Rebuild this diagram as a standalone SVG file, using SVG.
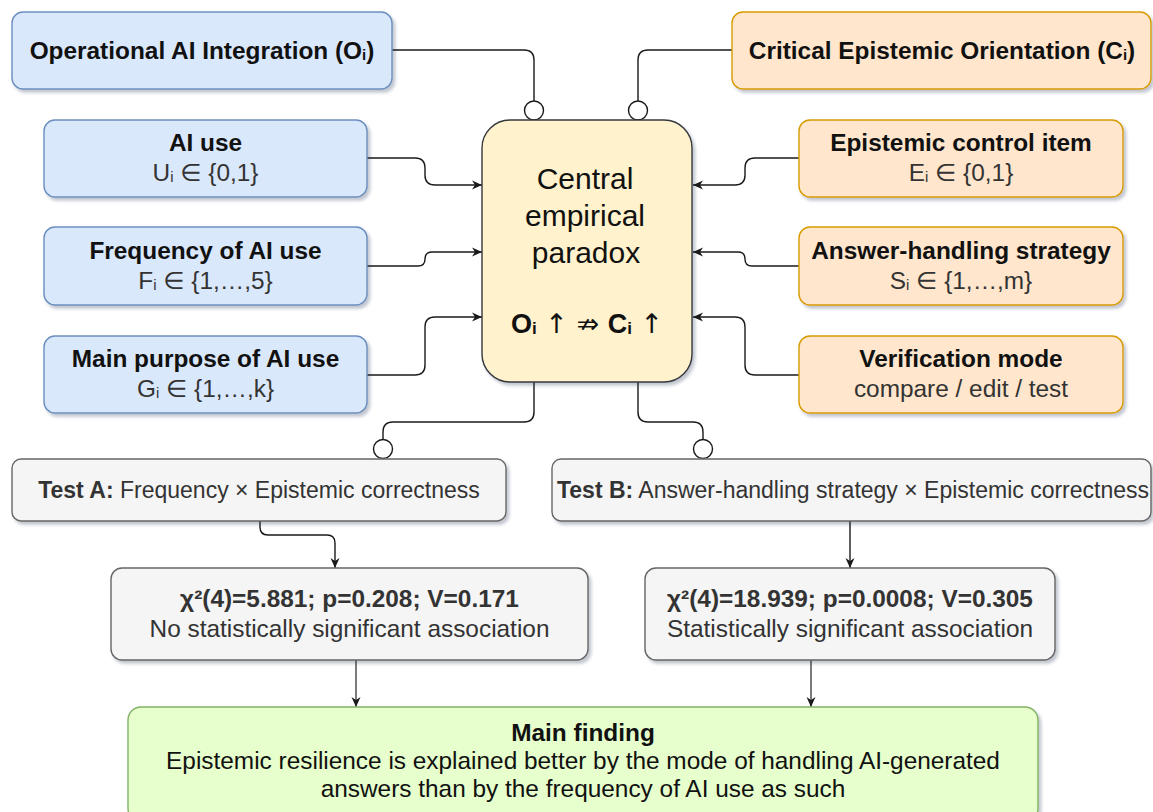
<svg xmlns="http://www.w3.org/2000/svg" width="1153" height="812" viewBox="0 0 1153 812">
<style>
.box{stroke-width:1.4}
.b{fill:#dae8fc;stroke:#6c8ebf}
.o{fill:#ffe6cc;stroke:#d79b00}
.y{fill:#fff2cc;stroke:#36393d}
.g{fill:#f5f5f5;stroke:#666666}
.gr{fill:#e6ffcc;stroke:#82b366}
text{font-family:"Liberation Sans","DejaVu Sans",sans-serif;font-size:24.4px;text-anchor:middle;fill:#111}
.bd{font-weight:bold}
.sub{font-size:15px}
.dk{fill:#333333}
.sym{font-family:"DejaVu Sans",sans-serif;font-weight:normal;fill:#111}
.c{fill:none;stroke:#1a1a1a;stroke-width:1.4}
.cg{fill:none;stroke:#444;stroke-width:1.4}
.dot{fill:#ffffff;stroke:#1a1a1a;stroke-width:1.4}
</style>
<defs>
<filter id="sh" x="-10%" y="-10%" width="125%" height="135%">
<feDropShadow dx="2.5" dy="3" stdDeviation="1.8" flood-color="#203050" flood-opacity="0.28"/>
</filter>
<marker id="ar" markerWidth="11" markerHeight="10" refX="10" refY="5" orient="auto" markerUnits="userSpaceOnUse">
<path d="M0,0.5 L10,5 L0,9.5 L3,5 Z" fill="#1a1a1a"/>
</marker>
</defs>

<g id="connectors">
<path class="c" d="M392,50 H524 Q534,50 534,60 V101"/>
<circle class="dot" cx="534" cy="110.5" r="9.5"/>
<path class="c" d="M732,50 H648 Q638,50 638,60 V101"/>
<circle class="dot" cx="638" cy="110.5" r="9.5"/>
<path class="c" d="M367,158 H415 Q425,158 425,168 V175 Q425,185 435,185 H482" marker-end="url(#ar)"/>
<path class="c" d="M367,266 H418 Q425,266 425,259 Q425,252 432,252 H482" marker-end="url(#ar)"/>
<path class="c" d="M367,375 H415 Q425,375 425,365 V327 Q425,317 435,317 H482" marker-end="url(#ar)"/>
<path class="c" d="M799,158 H755 Q745,158 745,168 V175 Q745,185 735,185 H693" marker-end="url(#ar)"/>
<path class="c" d="M799,266 H752 Q745,266 745,259 Q745,252 738,252 H693" marker-end="url(#ar)"/>
<path class="c" d="M799,375 H755 Q745,375 745,365 V327 Q745,317 735,317 H693" marker-end="url(#ar)"/>
<path class="c" d="M534,382 V412 Q534,422 524,422 H393 Q383,422 383,432 V439.5"/>
<circle class="dot" cx="383" cy="449" r="9.5"/>
<path class="c" d="M638,382 V412 Q638,422 648,422 H693 Q703,422 703,432 V439.5"/>
<circle class="dot" cx="703" cy="449" r="9.5"/>
<path class="c" d="M260,521 V527 Q260,535 268,535 H327 Q335,535 335,543 V568" marker-end="url(#ar)"/>
<path class="c" d="M850,521 V568" marker-end="url(#ar)"/>
<path class="cg" d="M356,660 V707" marker-end="url(#ar)"/>
<path class="cg" d="M811,660 V707" marker-end="url(#ar)"/>
</g>

<g id="node-oi">
<rect class="box b" x="12" y="12" width="380" height="77" rx="11" filter="url(#sh)"/>
<text class="bd" x="202" y="59">Operational AI Integration (O<tspan class="sub" dy="1">i</tspan><tspan dy="-1">)</tspan></text>
</g>
<g id="node-ci">
<rect class="box o" x="732" y="12" width="419" height="77" rx="11" filter="url(#sh)"/>
<text class="bd" x="942" y="59">Critical Epistemic Orientation (C<tspan class="sub" dy="1">i</tspan><tspan dy="-1">)</tspan></text>
</g>

<g id="node-ai-use">
<rect class="box b" x="44" y="120" width="323" height="77" rx="11" filter="url(#sh)"/>
<text class="bd" x="205.5" y="151">AI use</text>
<text class="dk" x="205.5" y="181">U<tspan class="sub" dy="1">i</tspan><tspan dy="-1"> ∈ {0,1}</tspan></text>
</g>
<g id="node-frequency">
<rect class="box b" x="44" y="227" width="323" height="78" rx="11" filter="url(#sh)"/>
<text class="bd" x="205.5" y="259">Frequency of AI use</text>
<text class="dk" x="205.5" y="289">F<tspan class="sub" dy="1">i</tspan><tspan dy="-1"> ∈ {1,…,5}</tspan></text>
</g>
<g id="node-purpose">
<rect class="box b" x="44" y="336" width="323" height="77" rx="11" filter="url(#sh)"/>
<text class="bd" x="205.5" y="367">Main purpose of AI use</text>
<text class="dk" x="205.5" y="397">G<tspan class="sub" dy="1">i</tspan><tspan dy="-1"> ∈ {1,…,k}</tspan></text>
</g>

<g id="node-control">
<rect class="box o" x="799" y="120" width="324" height="77" rx="11" filter="url(#sh)"/>
<text class="bd" x="961" y="151">Epistemic control item</text>
<text class="dk" x="961" y="181">E<tspan class="sub" dy="1">i</tspan><tspan dy="-1"> ∈ {0,1}</tspan></text>
</g>
<g id="node-strategy">
<rect class="box o" x="799" y="227" width="324" height="78" rx="11" filter="url(#sh)"/>
<text class="bd" x="961" y="259">Answer-handling strategy</text>
<text class="dk" x="961" y="289">S<tspan class="sub" dy="1">i</tspan><tspan dy="-1"> ∈ {1,…,m}</tspan></text>
</g>
<g id="node-verification">
<rect class="box o" x="799" y="336" width="324" height="77" rx="11" filter="url(#sh)"/>
<text class="bd" x="961" y="367">Verification mode</text>
<text class="dk" x="961" y="397">compare / edit / test</text>
</g>

<g id="node-central">
<rect class="box y" x="482" y="120" width="210" height="262" rx="28" filter="url(#sh)"/>
<text x="585" y="189" style="font-size:30px">Central</text>
<text x="585" y="226" style="font-size:30px">empirical</text>
<text x="586" y="263" style="font-size:30px">paradox</text>
<text class="bd" x="587" y="333" style="font-size:27px">O<tspan class="sub" style="font-size:17px" dy="1">i</tspan><tspan class="sym" dy="-1"> ↑ ⇏ </tspan>C<tspan class="sub" style="font-size:17px" dy="1">i</tspan><tspan class="sym" dy="-1"> ↑</tspan></text>
</g>

<g id="node-test-a">
<rect class="box g" x="12" y="459" width="494" height="62" rx="9" filter="url(#sh)"/>
<text class="dk" x="259" y="498" style="font-size:23px"><tspan class="bd">Test A:</tspan> Frequency × Epistemic correctness</text>
</g>
<g id="node-test-b">
<rect class="box g" x="552" y="459" width="599" height="62" rx="9" filter="url(#sh)"/>
<text class="dk" x="853" y="498" style="font-size:23px"><tspan class="bd">Test B:</tspan> Answer-handling strategy × Epistemic correctness</text>
</g>

<g id="node-result-a">
<rect class="box g" x="111" y="568" width="477" height="92" rx="11" filter="url(#sh)"/>
<text class="dk bd" x="349.5" y="607">χ²(4)=5.881; p=0.208; V=0.171</text>
<text class="dk" x="349.5" y="637">No statistically significant association</text>
</g>
<g id="node-result-b">
<rect class="box g" x="645" y="568" width="410" height="92" rx="11" filter="url(#sh)"/>
<text class="dk bd" x="850" y="607">χ²(4)=18.939; p=0.0008; V=0.305</text>
<text class="dk" x="850" y="637">Statistically significant association</text>
</g>

<g id="node-main-finding">
<rect class="box gr" x="128" y="707" width="910" height="115" rx="13" filter="url(#sh)"/>
<text class="bd" x="583" y="741">Main finding</text>
<text x="583" y="769">Epistemic resilience is explained better by the mode of handling AI-generated</text>
<text x="583" y="797">answers than by the frequency of AI use as such</text>
</g>
</svg>
